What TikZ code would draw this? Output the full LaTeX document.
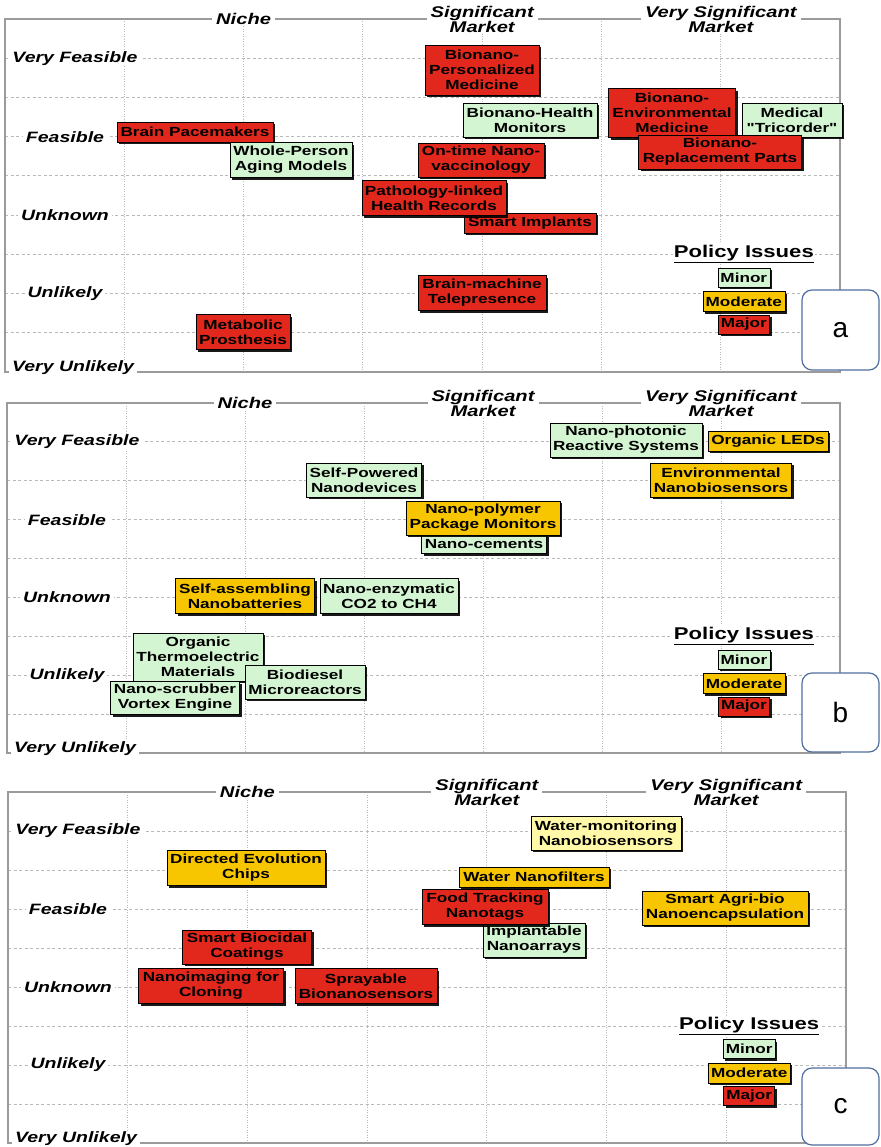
\documentclass[tikz,border=0pt]{standalone}
\usepackage{fontspec}
\setmainfont{Liberation Sans}[FakeStretch=1.3, Ligatures=TeXOff]
\newfontfamily\plainsans{Liberation Sans}
\usetikzlibrary{shadows}
\definecolor{boxred}{RGB}{226,40,28}
\definecolor{boxgreen}{RGB}{212,245,210}
\definecolor{boxyellow}{RGB}{248,198,0}
\definecolor{boxlightyellow}{RGB}{255,249,168}
\definecolor{gridgray}{RGB}{185,185,185}
\definecolor{framegray}{RGB}{155,155,155}
\definecolor{tagblue}{RGB}{80,110,160}
\tikzset{
  box/.style={draw=black, line width=0.6pt, align=center, inner sep=0pt,
    font=\fontsize{13.2}{15}\selectfont\bfseries,
    drop shadow={shadow xshift=2.2pt, shadow yshift=-2.2pt, opacity=0.9, fill=black}},
  rb/.style={box, fill=boxred},
  gb/.style={box, fill=boxgreen},
  yb/.style={box, fill=boxyellow},
  ly/.style={box, fill=boxlightyellow},
  sz/.style 2 args={minimum width=#1pt, minimum height=#2pt},
  axlab/.style={fill=white, inner xsep=3pt, inner ysep=1pt, font=\fontsize{15}{15}\selectfont\bfseries\itshape},
  hdr/.style={fill=white, inner xsep=4pt, inner ysep=1pt, align=center, font=\fontsize{15.5}{15}\selectfont\bfseries\itshape},
  hgrid/.style={draw=gridgray, line width=0.9pt, dash pattern=on 3pt off 2.5pt},
  vgrid/.style={draw=gridgray, line width=0.9pt, dash pattern=on 1pt off 1.5pt},
  framestyle/.style={draw=framegray, line width=1.3pt},
  pol/.style={fill=white, inner sep=1pt, font=\fontsize{17}{17}\selectfont\bfseries},
  tagbox/.style={draw=tagblue, line width=1.2pt, rounded corners=10pt, fill=white,
    font=\plainsans\fontsize{28}{28}\selectfont},
}
\newcommand\gridpanel[7]{%
  \pgfmathsetmacro\pxr{#1+7*#2}%
  \pgfmathsetmacro\pyb{#3+9*#4}%
  \foreach \k in {1,...,8} {\draw[hgrid] (#1,{#3+\k*#4}) -- (\pxr,{#3+\k*#4});}
  \foreach \k in {1,...,6} {\draw[vgrid] ({#1+\k*#2},#3) -- ({#1+\k*#2},\pyb);}
  \draw[framestyle] (#1,#3) rectangle (\pxr,\pyb);
  \node[axlab] (#7vf) at ({#1+70},{#3+#4}) {Very Feasible};
  \node[axlab] (#7f) at ({#1+60},{#3+3*#4}) {Feasible};
  \node[axlab] (#7u) at ({#1+60},{#3+5*#4}) {Unknown};
  \node[axlab] (#7ul) at ({#1+60},{#3+7*#4}) {Unlikely};
  \node[axlab] (#7vu) at ({#1+68},{\pyb-4}) {Very Unlikely};
  \node[hdr] (#7niche) at ({#1+2*#2},#3) {Niche};
  \node[hdr] (#7sig) at ({#1+4*#2},#3) {Significant\\Market};
  \node[hdr] (#7vsig) at ({#1+6*#2},#3) {Very Significant\\Market};
  \node[pol] (#7pol) at ({#1+6*#2+23},{#3+6*#4}) {\underline{Policy Issues}};
  \node[gb, sz={52}{19}] (#7minor) at ({#1+6*#2+23},{#3+6*#4+23}) {Minor};
  \node[yb, sz={82}{20}] (#7moderate) at ({#1+6*#2+23},{#3+6*#4+47}) {Moderate};
  \node[rb, sz={51}{19}] (#7major) at ({#1+6*#2+23},{#3+6*#4+70}) {Major};
  \node[tagbox, minimum width=77pt, minimum height={#6-#5}] (#7tag) at (840.5,{(#5+#6)/2}) {#7};
}
\begin{document}
\begin{tikzpicture}[x=1pt, y=-1pt]
\useasboundingbox (0,0) rectangle (880,1147);

% ---------- panel a ----------
\gridpanel{5}{119.3}{19}{39.22}{290}{370}{a}
\node[rb, sz={156}{20}] (brainpace) at (195,132) {Brain Pacemakers};
\node[gb, sz={122}{35}] (wholeperson) at (291,160) {Whole-Person\\Aging Models};
\node[rb, sz={114}{50}] (biopers) at (482,70) {Bionano-\\Personalized\\Medicine};
\node[gb, sz={134}{34}] (biohealth) at (530,120) {Bionano-Health\\Monitors};
\node[rb, sz={126}{34}] (ontime) at (481,160) {On-time Nano-\\vaccinology};
\node[rb, sz={132}{20}] (smartimpl) at (530,223) {Smart Implants};
\node[rb, sz={144}{35}] (patho) at (434,198) {Pathology-linked\\Health Records};
\node[rb, sz={127}{49}] (bioenv) at (672,113) {Bionano-\\Environmental\\Medicine};
\node[gb, sz={100}{34}] (tricorder) at (792,120) {Medical\\"Tricorder"};
\node[rb, sz={163}{34}] (biorepl) at (720,152) {Bionano-\\Replacement Parts};
\node[rb, sz={128}{35}] (brainmach) at (482,293) {Brain-machine\\Telepresence};
\node[rb, sz={94}{35}] (metabolic) at (243,332) {Metabolic\\Prosthesis};

% ---------- panel b ----------
\gridpanel{7}{119}{403}{38.89}{673}{752}{b}
\node[gb, sz={152}{34}] (nanophot) at (626,440) {Nano-photonic\\Reactive Systems};
\node[yb, sz={120}{20}] (oled) at (768,441) {Organic LEDs};
\node[yb, sz={141}{34}] (envnano) at (721,480) {Environmental\\Nanobiosensors};
\node[gb, sz={115}{34}] (selfpow) at (364,480) {Self-Powered\\Nanodevices};
\node[gb, sz={125}{19}] (nanocem) at (484,544) {Nano-cements};
\node[yb, sz={154}{34}] (nanopoly) at (483,518) {Nano-polymer\\Package Monitors};
\node[yb, sz={139}{35}] (selfasm) at (245,596) {Self-assembling\\Nanobatteries};
\node[gb, sz={138}{35}] (nanoenz) at (389,596) {Nano-enzymatic\\CO2 to CH4};
\node[gb, sz={130}{48}] (orgthermo) at (198,657) {Organic\\Thermoelectric\\Materials};
\node[gb, sz={120}{34}] (biodiesel) at (305,682) {Biodiesel\\Microreactors};
\node[gb, sz={129}{33}] (nanoscrub) at (175,698) {Nano-scrubber\\Vortex Engine};

% ---------- panel c ----------
\gridpanel{8}{119.7}{792}{39}{1068}{1145}{c}
\node[ly, sz={150}{34}] (watermon) at (606,833) {Water-monitoring\\Nanobiosensors};
\node[yb, sz={158}{35}] (direvo) at (246,868) {Directed Evolution\\Chips};
\node[yb, sz={150}{20}] (waterfilt) at (534,877) {Water Nanofilters};
\node[gb, sz={102}{34}] (implant) at (534,940) {Implantable\\Nanoarrays};
\node[rb, sz={126}{35}] (foodtrack) at (485,907) {Food Tracking\\Nanotags};
\node[yb, sz={166}{34}] (smartagri) at (725,908) {Smart Agri-bio\\Nanoencapsulation};
\node[rb, sz={129}{34}] (biocidal) at (247,947) {Smart Biocidal\\Coatings};
\node[rb, sz={145}{35}] (nanoimg) at (211,986) {Nanoimaging for\\Cloning};
\node[rb, sz={142}{35}] (spray) at (366,986) {Sprayable\\Bionanosensors};
\end{tikzpicture}
\end{document}
